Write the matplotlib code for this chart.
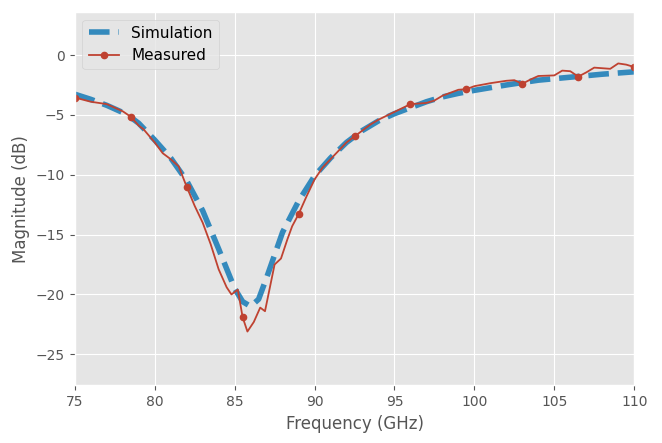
import matplotlib
matplotlib.use("Agg")
import matplotlib.pyplot as plt

# Simulation (smooth curve)
sim_freq = [75, 76, 77, 78, 78.5, 79, 80, 81, 82, 83, 84, 85, 85.5, 86, 86.5, 87, 88,
            89, 90, 91, 92, 93, 94, 95, 96, 97, 98, 99, 100, 102, 104, 106, 108, 110]
sim_mag = [-3.27, -3.7, -4.2, -4.8, -5.2, -5.7, -7.1, -8.6, -10.5, -13.0, -16.2, -19.5,
           -20.6, -21.0, -20.4, -18.6, -14.8, -12.2, -10.1, -8.6, -7.3, -6.3, -5.5, -4.9,
           -4.4, -3.9, -3.5, -3.2, -2.95, -2.5, -2.1, -1.85, -1.6, -1.4]

# Measured (noisy curve)
meas_freq = [75, 76, 77, 78, 78.5, 79, 79.3, 80, 80.5, 81, 81.5, 82, 82.5, 83, 83.5, 84,
             84.5, 84.8, 85.2, 85.5, 85.8, 86.2, 86.6, 86.9, 87.5, 87.9, 88.3, 88.6, 89,
             89.5, 90, 90.5, 91, 91.5, 92, 92.5, 93, 93.5, 94, 95, 96, 97, 97.5, 98, 99,
             99.5, 100, 101, 102, 102.5, 103, 103.5, 104, 105, 105.5, 106, 106.5, 107,
             107.5, 108, 108.5, 109, 109.5, 110]
meas_mag = [-3.55, -3.9, -4.1, -4.7, -5.15, -5.9, -6.2, -7.3, -8.2, -8.7, -9.3, -11.0,
            -12.6, -14.0, -15.8, -17.9, -19.4, -20.0, -19.6, -21.9, -23.1, -22.3, -21.1,
            -21.4, -17.5, -17.0, -15.4, -14.3, -13.3, -11.8, -10.4, -9.4, -8.7, -8.0, -7.3,
            -6.8, -6.3, -5.8, -5.4, -4.75, -4.1, -4.0, -3.8, -3.4, -2.9, -2.85, -2.6, -2.35,
            -2.15, -2.1, -2.4, -2.05, -1.75, -1.7, -1.3, -1.35, -1.8, -1.45, -1.05, -1.1,
            -1.15, -0.7, -0.8, -1.0]
marker_freqs = [75, 78.5, 82, 85.5, 89, 92.5, 96, 99.5, 103, 106.5, 110]

plt.style.use("ggplot")
fig, ax = plt.subplots(figsize=(6.62, 4.43), dpi=100)

ax.plot(sim_freq, sim_mag, linestyle="--", linewidth=4, color="#348ABD",
        label="Simulation")
mark_idx = [meas_freq.index(f) for f in marker_freqs]
ax.plot(meas_freq, meas_mag, color="#BF4231", linewidth=1.3, marker="o",
        markersize=4.5, markevery=mark_idx, label="Measured")

ax.set_xlim(75, 110)
ax.set_ylim(-27.6, 3.6)
ax.set_xlabel("Frequency (GHz)")
ax.set_ylabel("Magnitude (dB)")
ax.legend(loc="upper left", fontsize=11)

fig.subplots_adjust(left=0.113, right=0.958, top=0.973, bottom=0.13)
fig.savefig("out.png", dpi=100)
